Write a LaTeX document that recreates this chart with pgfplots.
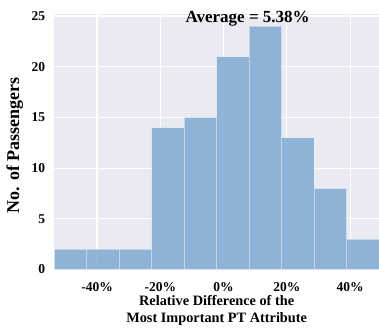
\documentclass[border=0pt]{standalone}
\usepackage{fontspec}
\setmainfont{Liberation Serif}
\usepackage{pgfplots}
\pgfplotsset{compat=1.18}
\definecolor{bgc}{HTML}{EAEAF2}
\definecolor{barc}{RGB}{128,170,211}
\begin{document}
\begin{tikzpicture}
\path[use as bounding box] (-54.3pt,-62.5pt) rectangle (324.7pt,269.5pt);
\begin{axis}[
  at={(0pt,0pt)}, anchor=south west,
  scale only axis, width=324.7pt, height=255.5pt,
  xmin=-53.5, xmax=49.1, ymin=0, ymax=25.2,
  axis background/.style={fill=bgc},
  axis line style={draw=none},
  grid=major, major grid style={white, line width=1.1pt},
  tick style={draw=none},
  xtick={-40,-20,0,20,40},
  xticklabels={-40\%,-20\%,0\%,20\%,40\%},
  ytick={0,5,10,15,20,25},
  /pgf/number format/assume math mode=true,
  ticklabel style={font=\fontsize{13.5}{15}\selectfont\bfseries},
  xticklabel style={anchor=base, inner sep=0pt, yshift=-21.7pt},
  yticklabel style={anchor=east, inner sep=0pt, xshift=-9pt},
  xlabel={Relative Difference of the\\Most Important PT Attribute},
  ylabel={No. of Passengers},
  xlabel style={font=\fontsize{14.3}{17}\selectfont\bfseries, align=center, at={(axis description cs:0.5,0)}, anchor=center, yshift=-40.5pt},
  ylabel style={font=\fontsize{18}{20}\selectfont\bfseries, at={(axis description cs:0,0.5)}, anchor=center, yshift=39.5pt, xshift=-3.3pt},
  clip=false,
]
\addplot[ybar interval, fill=barc, fill opacity=0.85, draw=white, draw opacity=0.45, line width=0.8pt]
coordinates {(-53.5,2) (-43.24,2) (-32.98,2) (-22.72,14) (-12.46,15) (-2.2,21) (8.06,24) (18.32,13) (28.58,8) (38.84,3) (49.1,3)};
\node[anchor=base, font=\fontsize{17}{19}\selectfont\bfseries, inner sep=0pt] at (axis cs:7.6,24.4) {Average = 5.38\%};
\end{axis}
\end{tikzpicture}
\end{document}
